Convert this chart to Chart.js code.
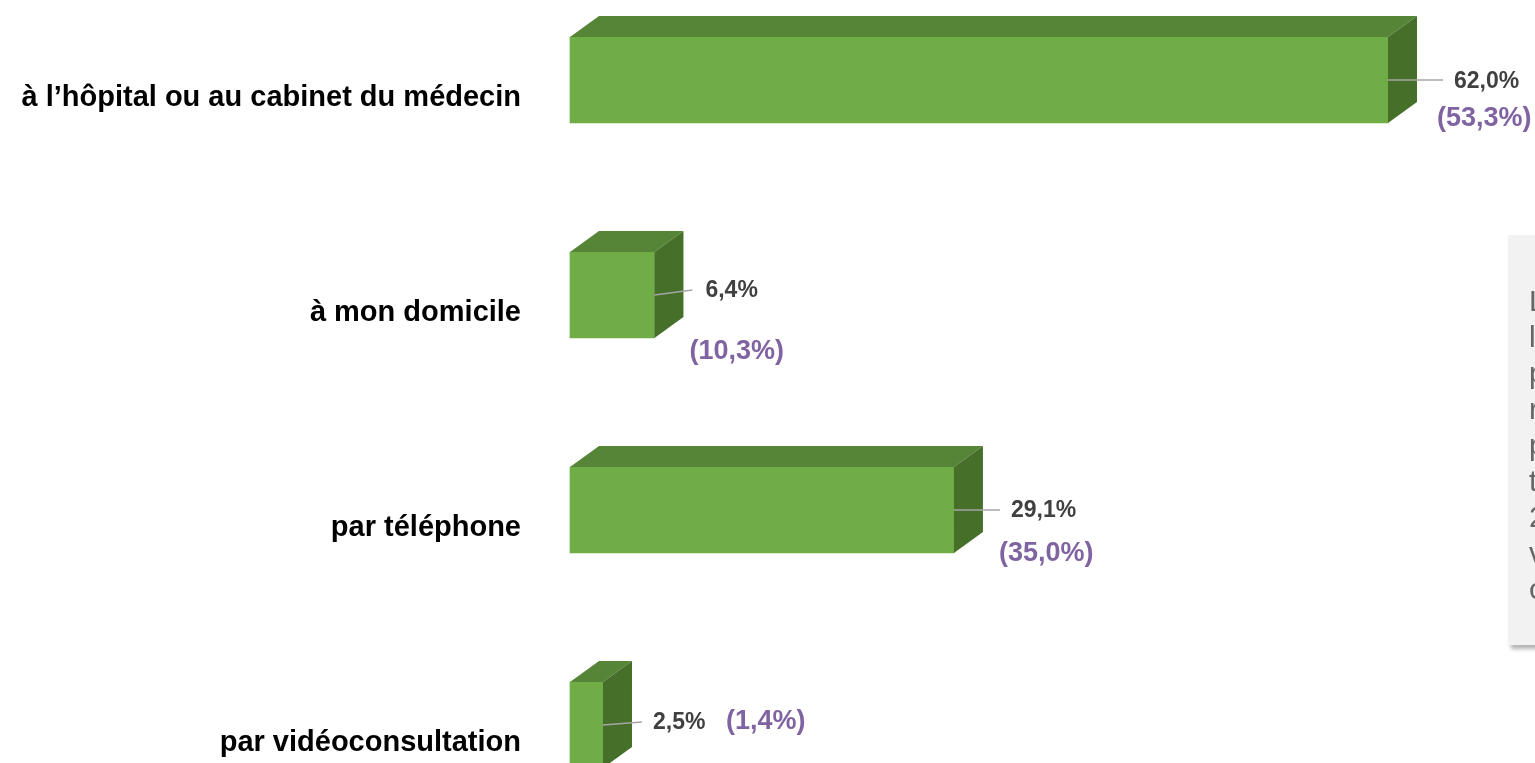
<!DOCTYPE html>
<html>
<head>
<meta charset="utf-8">
<script src="https://cdn.jsdelivr.net/npm/chart.js@4"></script>
<style>
  body { margin: 0; background: #fff; overflow: hidden; }
  #wrap { position: relative; width: 1535px; height: 763px; }
  #note {
    position: absolute; left: 1508px; top: 235px; width: 300px; height: 410px;
    background: #f2f2f2; box-shadow: 3px 4px 4px rgba(0,0,0,0.3);
    box-sizing: border-box; padding: 48px 0 0 21px;
    font-family: "Liberation Sans", Arial, sans-serif; font-size: 30px; line-height: 36px;
    color: #666; white-space: nowrap;
  }
</style>
</head>
<body>
<div id="wrap">
  <canvas id="mygraph" width="1535" height="763"></canvas>
  <div id="note">Les valeurs<br>les parenthèses<br>proviennent<br>résultats<br>précédents<br>tels<br>2020<br>vidéo<br>consultation</div>
</div>
<script>
// data
const categories = ['à l’hôpital ou au cabinet du médecin', 'à mon domicile', 'par téléphone', 'par vidéoconsultation']
const values = [62.0, 6.4, 29.1, 2.5]
const previous = [53.3, 10.3, 35.0, 1.4]

// label placement (offsets from the bar end / bar center)
const leaderEnd = [[55, 0], [38, -5], [46, 0], [39, -3]]
const valuePos = [[66, 2], [51, -4], [57, 1], [50, -2]]
const prevPos = [[49, 39], [35, 57], [45, 44], [123, -3]]

const fmt = v => v.toFixed(1).replace('.', ',') + '%'
const depth = {dx: 29, dy: -21}

const bars3d = {
    id: 'bars3d',
    afterDatasetsDraw(chart) {
        const ctx = chart.ctx
        const meta = chart.getDatasetMeta(0)
        meta.data.forEach((bar, i) => {
            const p = bar.getProps(['x', 'y', 'base', 'height'], true)
            const l = p.base, r = p.x, t = p.y - p.height / 2, b = p.y + p.height / 2
            ctx.save()
            // top face
            ctx.fillStyle = '#568538'
            ctx.beginPath()
            ctx.moveTo(l, t); ctx.lineTo(l + depth.dx, t + depth.dy)
            ctx.lineTo(r + depth.dx, t + depth.dy); ctx.lineTo(r, t)
            ctx.closePath(); ctx.fill()
            // side face
            ctx.fillStyle = '#466f2a'
            ctx.beginPath()
            ctx.moveTo(r, t); ctx.lineTo(r + depth.dx, t + depth.dy)
            ctx.lineTo(r + depth.dx, b + depth.dy); ctx.lineTo(r, b)
            ctx.closePath(); ctx.fill()

            // leader line
            ctx.strokeStyle = '#a6a6a6'
            ctx.lineWidth = 1.5
            ctx.beginPath()
            ctx.moveTo(r, p.y)
            ctx.lineTo(r + leaderEnd[i][0], p.y + leaderEnd[i][1])
            ctx.stroke()

            // value + previous value
            ctx.textAlign = 'left'
            ctx.textBaseline = 'middle'
            ctx.font = 'bold 23px "Liberation Sans", Arial, sans-serif'
            ctx.fillStyle = '#404040'
            ctx.fillText(fmt(values[i]), r + valuePos[i][0], p.y + valuePos[i][1])
            ctx.font = 'bold 27px "Liberation Sans", Arial, sans-serif'
            ctx.fillStyle = '#8064a2'
            ctx.fillText('(' + fmt(previous[i]) + ')', r + prevPos[i][0], p.y + prevPos[i][1])

            // category label
            ctx.textAlign = 'right'
            ctx.font = 'bold 29px "Liberation Sans", Arial, sans-serif'
            ctx.fillStyle = '#000'
            ctx.fillText(chart.data.labels[i], 521, p.y + 18)
            ctx.restore()
        })
    }
}

const ctx = document.getElementById('mygraph').getContext('2d')
const chart = new Chart(ctx, {
    type: 'bar',
    data: {
        labels: categories,
        datasets: [{
            data: values,
            backgroundColor: '#70ad47',
            barThickness: 86,
            clip: false
        }]
    },
    options: {
        indexAxis: 'y',
        responsive: false,
        animation: false,
        layout: {padding: {left: 570, right: 147, top: 80, bottom: 38}},
        scales: {
            x: {display: false, min: 0, max: 62},
            y: {display: false, offset: false}
        },
        plugins: {legend: {display: false}, tooltip: {enabled: false}}
    },
    plugins: [bars3d]
})
</script>
</body>
</html>
